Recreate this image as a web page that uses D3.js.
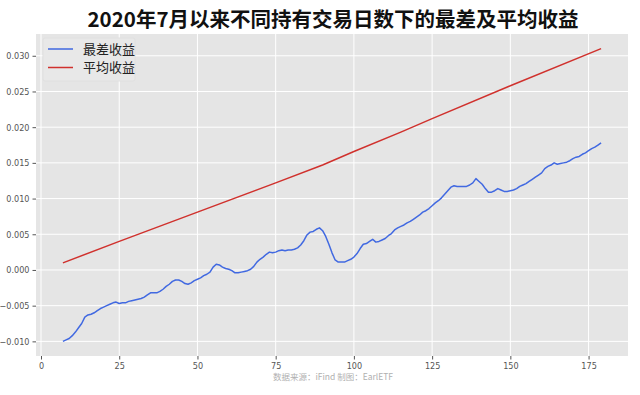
<!DOCTYPE html>
<html>
<head>
<meta charset="utf-8">
<script src="https://cdn.jsdelivr.net/npm/d3@7"></script>
<style>
  body { margin: 0; background: #fff; }
  svg { display: block; }
  .tick text { font-family: "DejaVu Sans Condensed", "DejaVu Sans", sans-serif; font-stretch: condensed; font-size: 9px; fill: #555; }
  .tick line { stroke: #555; }
</style>
</head>
<body>
<svg id="plate" width="640" height="395"></svg>
<script>
// days held, worst return
var worstDays = d3.range(7, 180);
var worstReturn = [
    -0.0100, -0.0098, -0.0096, -0.0092, -0.0087, -0.0081, -0.0075, -0.0066, -0.0063, -0.0062,
    -0.0060, -0.0057, -0.0054, -0.0052, -0.0050, -0.0048, -0.0046, -0.0045, -0.0047, -0.0046,
    -0.0046, -0.0044, -0.0043, -0.0042, -0.0041, -0.0040, -0.0038, -0.0035, -0.0032, -0.0032,
    -0.0032, -0.0030, -0.0027, -0.0023, -0.0020, -0.0016, -0.0014, -0.0014, -0.0016, -0.0019,
    -0.0020, -0.0018, -0.0015, -0.0013, -0.0011, -0.0008, -0.0006, -0.0003, 0.0004, 0.0008,
    0.0007, 0.0004, 0.0002, 0.0001, -0.0001, -0.0004, -0.0004, -0.0003, -0.0002, -0.0001,
    0.0001, 0.0005, 0.0011, 0.0015, 0.0018, 0.0022, 0.0025, 0.0024, 0.0025, 0.0027,
    0.0028, 0.0027, 0.0028, 0.0028, 0.0029, 0.0031, 0.0035, 0.0041, 0.0049, 0.0053,
    0.0054, 0.0057, 0.0059, 0.0055, 0.0047, 0.0036, 0.0024, 0.0014, 0.0011, 0.0011,
    0.0011, 0.0013, 0.0015, 0.0018, 0.0023, 0.0030, 0.0036, 0.0037, 0.0040, 0.0043,
    0.0039, 0.0040, 0.0042, 0.0044, 0.0048, 0.0051, 0.0056, 0.0059, 0.0061, 0.0063,
    0.0066, 0.0068, 0.0071, 0.0074, 0.0077, 0.0081, 0.0083, 0.0086, 0.0090, 0.0094,
    0.0097, 0.0101, 0.0106, 0.0111, 0.0116, 0.0118, 0.0117, 0.0117, 0.0117, 0.0117,
    0.0119, 0.0122, 0.0128, 0.0124, 0.0120, 0.0114, 0.0109, 0.0109, 0.0111, 0.0114,
    0.0112, 0.0110, 0.0110, 0.0111, 0.0112, 0.0114, 0.0117, 0.0119, 0.0121, 0.0124,
    0.0127, 0.0130, 0.0133, 0.0136, 0.0142, 0.0145, 0.0147, 0.0150, 0.0148, 0.0149,
    0.0150, 0.0151, 0.0153, 0.0156, 0.0158, 0.0159, 0.0162, 0.0164, 0.0167, 0.0170,
    0.0172, 0.0175, 0.0178
];
// average return, read at a few days along the (nearly straight) line
var avgDays = [7, 25, 50, 75, 90, 100, 115, 125, 150, 179];
var avgReturn = [0.0010, 0.0040, 0.0081, 0.0122, 0.0147, 0.0166, 0.0193, 0.0212, 0.0258, 0.0310];

var xTicks = [0, 25, 50, 75, 100, 125, 150, 175];
var yTicks = [-0.010, -0.005, 0.000, 0.005, 0.010, 0.015, 0.020, 0.025, 0.030];
var seriesNames = ['最差收益', '平均收益'];
var seriesColors = ['#4169e1', '#d0312d'];

var worst = worstDays.map((d, i) => ({day: d, value: worstReturn[i]}));
var avg = avgDays.map((d, i) => ({day: d, value: avgReturn[i]}));

var svg = d3.select('#plate');
var margin = {top: 34, right: 12, bottom: 39, left: 36};
var width = 640 - margin.left - margin.right;
var height = 395 - margin.top - margin.bottom;

// matplotlib style 5% padding on both axes
var xMin = d3.min(worstDays), xMax = d3.max(worstDays);
var xPad = (xMax - xMin) * 0.05;
var yMin = d3.min(worstReturn.concat(avgReturn)), yMax = d3.max(worstReturn.concat(avgReturn));
var yPad = (yMax - yMin) * 0.05;

var x = d3.scaleLinear().domain([xMin - xPad, xMax + xPad]).range([0, width]);
var y = d3.scaleLinear().domain([yMin - yPad, yMax + yPad]).range([height, 0]);

var g = svg.append('g')
    .attr('transform', 'translate(' + margin.left + ',' + margin.top + ')');

// panel
g.append('rect')
    .attr('width', width)
    .attr('height', height)
    .attr('fill', '#e5e5e5');

// grid
g.selectAll('.gx').data(xTicks).enter().append('line')
    .attr('x1', (d) => x(d)).attr('x2', (d) => x(d))
    .attr('y1', 0).attr('y2', height)
    .attr('stroke', '#fff').attr('stroke-width', 1);
g.selectAll('.gy').data(yTicks).enter().append('line')
    .attr('y1', (d) => y(d)).attr('y2', (d) => y(d))
    .attr('x1', 0).attr('x2', width)
    .attr('stroke', '#fff').attr('stroke-width', 1);

// axes
var xAxis = g.append('g')
    .attr('transform', 'translate(0,' + height + ')')
    .call(d3.axisBottom(x).tickValues(xTicks).tickSize(3.5).tickPadding(3).tickFormat(d3.format('d')));
var yAxis = g.append('g')
    .call(d3.axisLeft(y).tickValues(yTicks).tickSize(3.5).tickPadding(3).tickFormat(d3.format('.3f')));
xAxis.select('.domain').remove();
yAxis.select('.domain').remove();

var line = d3.line()
    .x((d) => x(d.day))
    .y((d) => y(d.value));

g.append('path')
    .datum(avg)
    .attr('fill', 'none')
    .attr('stroke', seriesColors[1])
    .attr('stroke-width', 1.5)
    .attr('d', line);

g.append('path')
    .datum(worst)
    .attr('fill', 'none')
    .attr('stroke', seriesColors[0])
    .attr('stroke-width', 1.5)
    .attr('stroke-linejoin', 'round')
    .attr('d', line);

// legend
var legend = g.append('g').attr('transform', 'translate(7,4)');
legend.append('rect')
    .attr('width', 92)
    .attr('height', 43)
    .attr('rx', 2)
    .attr('fill', '#e8e8e8')
    .attr('stroke', '#e0e0e0');
seriesNames.forEach((name, i) => {
    var row = legend.append('g').attr('transform', 'translate(0,' + (11 + i * 18.5) + ')');
    row.append('line')
        .attr('x1', 5).attr('x2', 30)
        .attr('y1', 0).attr('y2', 0)
        .attr('stroke', seriesColors[i])
        .attr('stroke-width', 1.5);
    row.append('text')
        .attr('x', 40)
        .attr('y', 0)
        .attr('dy', '0.35em')
        .attr('font-family', '"Noto Sans CJK SC", sans-serif')
        .attr('font-size', 13)
        .attr('fill', '#222')
        .text(name);
});

// title
svg.append('text')
    .attr('x', 333)
    .attr('y', 21)
    .attr('text-anchor', 'middle')
    .attr('dominant-baseline', 'middle')
    .attr('font-family', '"Noto Sans CJK SC", sans-serif')
    .attr('font-weight', 'bold')
    .attr('font-size', 20.5)
    .attr('fill', '#111')
    .text('2020年7月以来不同持有交易日数下的最差及平均收益');

// source note
svg.append('text')
    .attr('x', 333)
    .attr('y', 380)
    .attr('text-anchor', 'middle')
    .attr('font-family', '"Noto Sans CJK SC", sans-serif')
    .attr('font-size', 8.5)
    .attr('fill', '#b0b0b0')
    .text('数据来源：iFind 制图：EarlETF');
</script>
</body>
</html>
